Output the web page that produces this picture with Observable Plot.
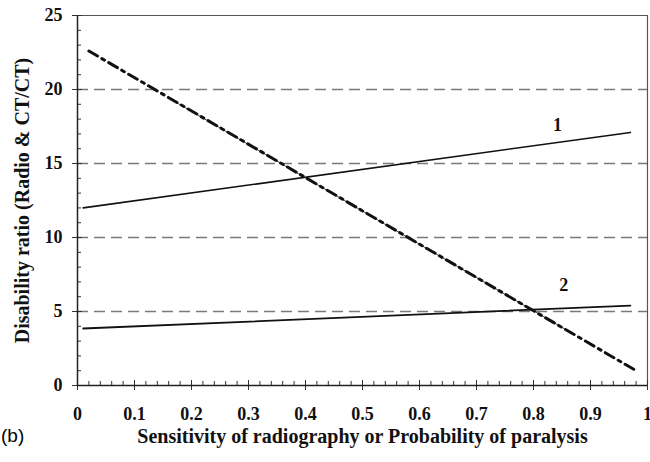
<!DOCTYPE html>
<html>
<head>
<meta charset="utf-8">
<script src="https://cdn.jsdelivr.net/npm/d3@7"></script>
<script src="https://cdn.jsdelivr.net/npm/@observablehq/plot@0.6"></script>
<style>
  html, body { margin: 0; padding: 0; background: #fff; }
  #wrap { position: relative; width: 650px; height: 462px; overflow: hidden; }
  #tag { position: absolute; left: 1px; top: 425px; font-family: "Liberation Sans", Arial, sans-serif; font-size: 19px; color: #000; }
</style>
</head>
<body>
<div id="wrap"><div id="tag">(b)</div></div>
<script>
// Data
const line1 = [{x: 0.01, y: 12.0}, {x: 0.97, y: 17.1}];
const line2 = [{x: 0.01, y: 3.85}, {x: 0.97, y: 5.4}];
const lineDashDot = [{x: 0.02, y: 22.6}, {x: 0.98, y: 1.0}];
const lineThinOverlay = [{x: 0.17, y: 19.2}, {x: 0.86, y: 3.7}];
const lineLabels = [{x: 0.842, y: 17.6, text: "1"}, {x: 0.853, y: 6.8, text: "2"}];
const xMajorTicks = [0, 0.1, 0.2, 0.3, 0.4, 0.5, 0.6, 0.7, 0.8, 0.9, 1];
const xMinorTicks = d3.range(0, 51).map(i => i / 50);
const yMajorTicks = [0, 5, 10, 15, 20, 25];
const yMinorTicks = d3.range(0, 26);
const gridValues = [5, 10, 15, 20];
const xTitle = "Sensitivity of radiography or Probability of paralysis";
const yTitle = "Disability ratio (Radio & CT/CT)";

const serif = "Liberation Serif";

const chart = Plot.plot({
  width: 650,
  height: 462,
  marginLeft: 77,
  marginRight: 3,
  marginTop: 15,
  marginBottom: 77,
  style: {fontFamily: serif, background: "white", overflow: "visible"},
  x: {domain: [0, 1]},
  y: {domain: [0, 25]},
  marks: [
    Plot.ruleY(gridValues, {stroke: "#7a7a7a", strokeWidth: 1.4, strokeDasharray: "11,6"}),
    Plot.ruleY([25], {stroke: "#555", strokeWidth: 1.2}),
    Plot.ruleX([1], {stroke: "#555", strokeWidth: 1.2}),
    // minor ticks (inward)
    Plot.axisX({ticks: xMinorTicks, tickSize: -4, text: null, label: null, stroke: "#333"}),
    Plot.axisY({ticks: yMinorTicks, tickSize: -4, text: null, label: null, stroke: "#333"}),
    // major ticks
    Plot.axisX({ticks: xMajorTicks, tickSize: -5, text: null, label: null, stroke: "#333"}),
    Plot.axisY({ticks: yMajorTicks, tickSize: -5, text: null, label: null, stroke: "#333"}),
    Plot.axisX({ticks: xMajorTicks, tickSize: 5, tickPadding: 17, tickFormat: d => String(d), label: null,
      fontFamily: serif, fontSize: 18, fontWeight: "bold", fill: "#111", stroke: "#333"}),
    Plot.axisY({ticks: yMajorTicks, tickSize: 5, tickPadding: 10, tickFormat: d => String(d), label: null,
      fontFamily: serif, fontSize: 18, fontWeight: "bold", fill: "#111", stroke: "#333"}),
    Plot.ruleX([0], {stroke: "#222", strokeWidth: 1.5}),
    Plot.ruleY([0], {stroke: "#222", strokeWidth: 1.5}),
    // data lines
    Plot.line(line1, {x: "x", y: "y", stroke: "#111", strokeWidth: 1.6}),
    Plot.line(line2, {x: "x", y: "y", stroke: "#111", strokeWidth: 1.8}),
    Plot.line(lineThinOverlay, {x: "x", y: "y", stroke: "#333", strokeWidth: 0.9}),
    Plot.line(lineDashDot, {x: "x", y: "y", stroke: "#111", strokeWidth: 3, strokeDasharray: "10,5,3,5"}),
    Plot.text(lineLabels, {x: "x", y: "y", text: "text", fontFamily: serif, fontSize: 18, fontWeight: "bold", fill: "#111"}),
    // titles
    Plot.text([xTitle], {frameAnchor: "bottom", textAnchor: "middle", dy: 57, fontFamily: serif, fontSize: 20, fontWeight: "bold", fill: "#111",
      letterSpacing: "0.8px"}),
    Plot.text([yTitle], {frameAnchor: "left", textAnchor: "middle", dx: -55, rotate: -90, fontFamily: serif, fontSize: 20, fontWeight: "bold", fill: "#111",
      letterSpacing: "1.5px"})
  ]
});
document.getElementById("wrap").prepend(chart);
</script>
</body>
</html>
